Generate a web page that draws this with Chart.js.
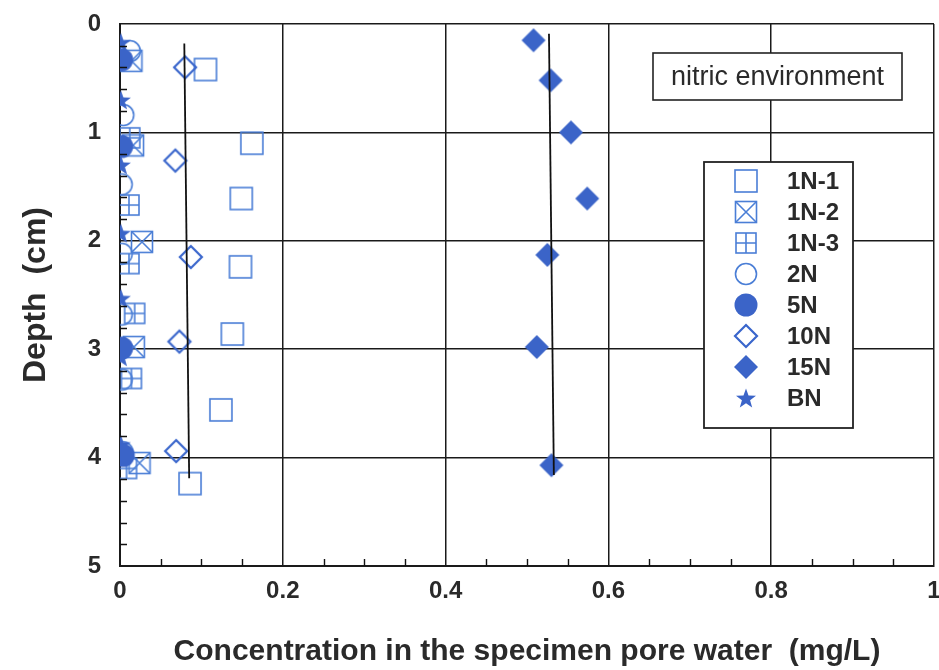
<!DOCTYPE html>
<html>
<head>
<meta charset="utf-8">
<script src="https://cdn.jsdelivr.net/npm/chart.js@4.4.1/dist/chart.umd.min.js"></script>
<style>
  html, body { margin: 0; padding: 0; background: #ffffff; }
  #wrap { width: 939px; height: 670px; position: relative; }
</style>
</head>
<body>
<div id="wrap"><canvas id="c" width="939" height="670"></canvas></div>
<script>
// ---------- data ----------
const seriesNames = ['1N-1', '1N-2', '1N-3', '2N', '5N', '10N', '15N', 'BN'];

const conc_1N1  = [0.105, 0.162, 0.149, 0.148, 0.138, 0.124, 0.086];
const depth_1N1 = [0.42, 1.10, 1.61, 2.24, 2.86, 3.56, 4.24];

const conc_1N2  = [0.014, 0.016, 0.027, 0.017, 0.024];
const depth_1N2 = [0.34, 1.12, 2.01, 2.98, 4.05];

const conc_1N3  = [0.012, 0.011, 0.011, 0.018, 0.014, 0.008];
const depth_1N3 = [1.05, 1.67, 2.21, 2.67, 3.27, 4.10];

const conc_2N   = [0.012, 0.004, 0.002, 0.002, 0.002, 0.002, 0.003];
const depth_2N  = [0.25, 0.84, 1.48, 2.12, 2.68, 3.28, 3.95];

const conc_5N   = [0.002, 0.002, 0.002, 0.004];
const depth_5N  = [0.33, 1.13, 2.99, 3.98];

const conc_10N  = [0.080, 0.068, 0.087, 0.073, 0.069];
const depth_10N = [0.40, 1.26, 2.15, 2.93, 3.94];

const conc_15N  = [0.508, 0.529, 0.554, 0.574, 0.525, 0.512, 0.530];
const depth_15N = [0.15, 0.52, 1.00, 1.61, 2.13, 2.98, 4.07];

const conc_BN   = [0.001, 0.001, 0.001, 0.001, 0.001, 0.001, 0.001];
const depth_BN  = [0.17, 0.70, 1.30, 1.93, 2.53, 3.07, 3.88];

// vertical mean lines
const meanLowConc   = [0.079, 0.085];
const meanLowDepth  = [0.18, 4.19];
const meanHighConc  = [0.527, 0.533];
const meanHighDepth = [0.09, 4.16];

const xTickValues = [0, 0.2, 0.4, 0.6, 0.8, 1];
const xTickLabels = ['0', '0.2', '0.4', '0.6', '0.8', '1'];
const yTickValues = [0, 1, 2, 3, 4, 5];
const yTickLabels = ['0', '1', '2', '3', '4', '5'];

const xTitle = 'Concentration in the specimen pore water  (mg/L)';
const yTitle = 'Depth  (cm)';
const boxNote = 'nitric environment';

// ---------- styling ----------
const FONT = "'Liberation Sans', Arial, sans-serif";
const FILL = '#3b64c8';
const OPEN = '#4a7ed6';

function makeSym(kind) {
  const S = 28, c = document.createElement('canvas');
  c.width = S; c.height = S;
  const g = c.getContext('2d');
  const m = S / 2;
  g.lineJoin = 'miter';
  g.strokeStyle = OPEN; g.fillStyle = FILL; g.lineWidth = 1.6;
  if (kind === 'sq') {
    g.strokeRect(m - 11, m - 11, 22, 22);
  } else if (kind === 'xsq') {
    g.strokeRect(m - 10.5, m - 10.5, 21, 21);
    g.beginPath();
    g.moveTo(m - 10.5, m - 10.5); g.lineTo(m + 10.5, m + 10.5);
    g.moveTo(m + 10.5, m - 10.5); g.lineTo(m - 10.5, m + 10.5);
    g.stroke();
  } else if (kind === 'psq') {
    g.strokeRect(m - 10, m - 10, 20, 20);
    g.beginPath();
    g.moveTo(m, m - 10); g.lineTo(m, m + 10);
    g.moveTo(m - 10, m); g.lineTo(m + 10, m);
    g.stroke();
  } else if (kind === 'ocirc') {
    g.beginPath(); g.arc(m, m, 10.5, 0, Math.PI * 2); g.stroke();
  } else if (kind === 'fcirc') {
    g.beginPath(); g.arc(m, m, 11.5, 0, Math.PI * 2); g.fill();
  } else if (kind === 'odia') {
    g.strokeStyle = '#3a66cc'; g.lineWidth = 2.2;
    g.beginPath();
    g.moveTo(m, m - 11); g.lineTo(m + 11, m); g.lineTo(m, m + 11); g.lineTo(m - 11, m);
    g.closePath(); g.stroke();
  } else if (kind === 'fdia') {
    g.beginPath();
    g.moveTo(m, m - 12); g.lineTo(m + 12, m); g.lineTo(m, m + 12); g.lineTo(m - 12, m);
    g.closePath(); g.fill();
  } else if (kind === 'star') {
    g.beginPath();
    for (let i = 0; i < 10; i++) {
      const r = (i % 2 === 0) ? 10.5 : 4.3;
      const a = -Math.PI / 2 + i * Math.PI / 5;
      const px = m + r * Math.cos(a), py = m + 1 + r * Math.sin(a);
      if (i === 0) g.moveTo(px, py); else g.lineTo(px, py);
    }
    g.closePath(); g.fill();
  }
  return c;
}

const symbols = {
  '1N-1': makeSym('sq'),
  '1N-2': makeSym('xsq'),
  '1N-3': makeSym('psq'),
  '2N':   makeSym('ocirc'),
  '5N':   makeSym('fcirc'),
  '10N':  makeSym('odia'),
  '15N':  makeSym('fdia'),
  'BN':   makeSym('star')
};

function pts(xs, ys) { return xs.map((x, i) => ({ x: x, y: ys[i] })); }

const seriesData = {
  '1N-1': pts(conc_1N1, depth_1N1),
  '1N-2': pts(conc_1N2, depth_1N2),
  '1N-3': pts(conc_1N3, depth_1N3),
  '2N':   pts(conc_2N, depth_2N),
  '5N':   pts(conc_5N, depth_5N),
  '10N':  pts(conc_10N, depth_10N),
  '15N':  pts(conc_15N, depth_15N),
  'BN':   pts(conc_BN, depth_BN)
};
// drawing order (higher order = drawn earlier / behind)
const drawOrder = { '1N-1': 9, '1N-2': 8, '1N-3': 7, '2N': 6, 'BN': 5, '5N': 4, '10N': 3, '15N': 2 };

const datasets = seriesNames.map(name => ({
  label: name,
  data: seriesData[name],
  pointStyle: symbols[name],
  pointRadius: 11,
  showLine: false,
  order: drawOrder[name]
}));
datasets.push({
  label: 'meanLow', data: pts(meanLowConc, meanLowDepth), showLine: true,
  borderColor: '#111', borderWidth: 1.8, pointRadius: 0, order: 0
});
datasets.push({
  label: 'meanHigh', data: pts(meanHighConc, meanHighDepth), showLine: true,
  borderColor: '#111', borderWidth: 1.8, pointRadius: 0, order: 0
});

// ---------- plugins ----------
const decorPlugin = {
  id: 'decor',
  afterDatasetsDraw(chart) {
    const { ctx, chartArea: a, scales: { x, y } } = chart;
    ctx.save();
    // minor ticks (inward)
    ctx.strokeStyle = '#111'; ctx.lineWidth = 1.4;
    ctx.beginPath();
    for (let i = 1; i < 20; i++) {
      if (i % 4 === 0) continue;
      const px = Math.round(x.getPixelForValue(i * 0.05)) + 0.5;
      ctx.moveTo(px, a.bottom); ctx.lineTo(px, a.bottom - 7);
    }
    for (let i = 1; i < 25; i++) {
      if (i % 5 === 0) continue;
      const py = Math.round(y.getPixelForValue(i * 0.2)) + 0.5;
      ctx.moveTo(a.left, py); ctx.lineTo(a.left + 7, py);
    }
    ctx.stroke();

    // note box
    const nbL = a.left + 533, nbT = a.top + 29, nbW = 249, nbH = 47;
    ctx.fillStyle = '#fff'; ctx.fillRect(nbL, nbT, nbW, nbH);
    ctx.strokeStyle = '#222'; ctx.lineWidth = 1.6; ctx.strokeRect(nbL, nbT, nbW, nbH);
    ctx.fillStyle = '#2a2a2a';
    ctx.font = '27px ' + FONT;
    ctx.textAlign = 'center'; ctx.textBaseline = 'middle';
    ctx.fillText(boxNote, nbL + nbW / 2, nbT + nbH / 2 + 1);

    // legend box
    const lbL = a.left + 584, lbT = a.top + 138, lbW = 149, lbH = 266;
    ctx.fillStyle = '#fff'; ctx.fillRect(lbL, lbT, lbW, lbH);
    ctx.strokeStyle = '#222'; ctx.lineWidth = 1.8; ctx.strokeRect(lbL, lbT, lbW, lbH);
    ctx.font = 'bold 24px ' + FONT;
    ctx.textAlign = 'left'; ctx.textBaseline = 'middle';
    ctx.fillStyle = '#2a2a2a';
    seriesNames.forEach((name, i) => {
      const cy = lbT + 19 + i * 31;
      const img = symbols[name];
      ctx.drawImage(img, lbL + 42 - img.width / 2, cy - img.height / 2);
      ctx.fillText(name, lbL + 83, cy + 1);
    });
    ctx.restore();
  }
};

const chart = new Chart(document.getElementById('c'), {
  type: 'scatter',
  data: { datasets: datasets },
  options: {
    responsive: false,
    animation: false,
    events: [],
    layout: { autoPadding: false, padding: { top: 24, right: 5, left: 0, bottom: 0 } },
    plugins: { legend: { display: false }, tooltip: { enabled: false } },
    scales: {
      x: {
        type: 'linear', position: 'bottom', min: 0, max: 1,
        afterFit(s) { s.height = 104; s.paddingLeft = 0; s.paddingRight = 0; },
        afterBuildTicks(s) { s.ticks = xTickValues.map(v => ({ value: v })); },
        ticks: {
          callback: (v, i) => xTickLabels[i],
          font: { family: FONT, size: 24, weight: 'bold' },
          color: '#2a2a2a', padding: 11, maxRotation: 0, autoSkip: false
        },
        grid: { color: '#1a1a1a', lineWidth: 1.5, drawTicks: false },
        border: { color: '#1a1a1a', width: 2 },
        title: {
          display: true, text: xTitle, color: '#2a2a2a',
          font: { family: FONT, size: 30, weight: 'bold' },
          padding: { top: 0, bottom: 0 }
        }
      },
      y: {
        type: 'linear', position: 'left', min: 0, max: 5, reverse: true,
        afterFit(s) { s.width = 120; s.paddingTop = 0; s.paddingBottom = 0; },
        afterBuildTicks(s) { s.ticks = yTickValues.map(v => ({ value: v })); },
        ticks: {
          callback: (v, i) => yTickLabels[i],
          font: { family: FONT, size: 24, weight: 'bold' },
          color: '#2a2a2a', padding: 19, autoSkip: false
        },
        grid: { color: '#1a1a1a', lineWidth: 1.5, drawTicks: false },
        border: { color: '#1a1a1a', width: 2 },
        title: {
          display: true, text: yTitle, color: '#2a2a2a',
          font: { family: FONT, size: 32, weight: 'bold' },
          padding: { top: 17, bottom: 0 }
        }
      }
    }
  },
  plugins: [decorPlugin]
});
</script>
</body>
</html>
